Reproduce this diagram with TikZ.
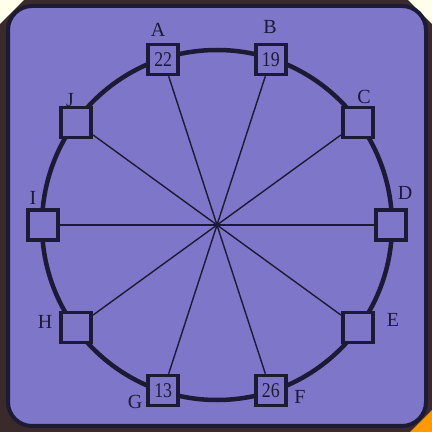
\documentclass[tikz,border=0pt]{standalone}
\usepackage{fontspec}
\setmainfont{Liberation Serif}
\usetikzlibrary{calc}
\definecolor{bgpurple}{HTML}{7E76C8}
\definecolor{ink}{HTML}{1C1B36}
\definecolor{outerdark}{HTML}{3A2A2C}
\begin{document}
\begin{tikzpicture}[x=1pt,y=1pt,
  seat/.style={draw=ink,line width=3.5pt,fill=bgpurple,minimum size=30pt,inner sep=0pt,
    font=\fontsize{21}{21}\selectfont,text=ink},
  lbl/.style={font=\fontsize{20}{20}\selectfont,text=ink,inner sep=0pt},
  spoke/.style={draw=ink,line width=1.4pt},
  rim/.style={draw=ink,line width=4.5pt}]
\useasboundingbox (0,0) rectangle (432,432);
\fill[outerdark] (0,0) rectangle (432,432);
\fill[white!92!yellow] (0,432) -- (24,432) -- (0,408) -- cycle;
\fill[white!92!yellow] (432,432) -- (408,432) -- (432,408) -- cycle;
\fill[orange!80!yellow] (432,0) -- (410,0) -- (432,22) -- cycle;
\draw[fill=bgpurple,draw=ink,line width=4pt,rounded corners=24pt] (8,6) rectangle (426,426);
\coordinate (ctr) at (217,207);
\draw[rim] (ctr) circle (175);
\foreach \n/\a/\t in {D/0/,C/36/,B/72/19,A/108/22,J/144/,I/180/,H/216/,G/252/13,F/288/26,E/324/}{
  \node[seat] (\n) at ($(ctr)+(\a:174)$) {\scalebox{0.85}[1]{\t}};
}
\foreach \n in {A,B,C,D,E,F,G,H,I,J}{
  \draw[spoke] (ctr) -- (\n);
}
\node[lbl] (lA) at (158,402) {A};
\node[lbl] (lB) at (270,405) {B};
\node[lbl] (lC) at (364,335) {C};
\node[lbl] (lD) at (405,239) {D};
\node[lbl] (lE) at (393,112) {E};
\node[lbl] (lF) at (300,35) {F};
\node[lbl] (lG) at (135,30) {G};
\node[lbl] (lH) at (45,110) {H};
\node[lbl] (lI) at (33,234) {I};
\node[lbl] (lJ) at (70,332) {J};
\end{tikzpicture}
\end{document}
